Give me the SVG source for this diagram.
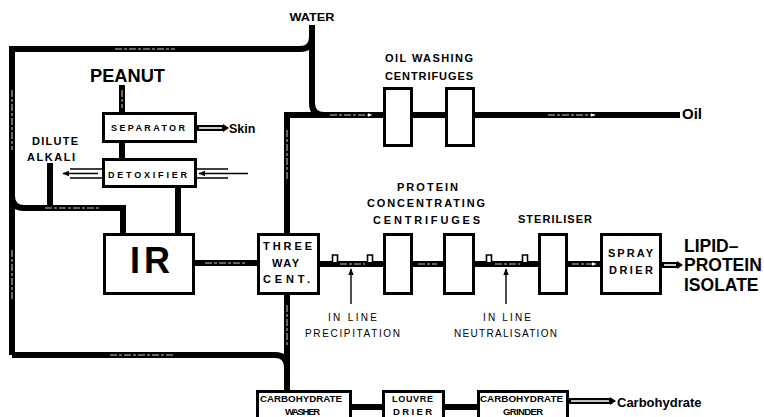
<svg xmlns="http://www.w3.org/2000/svg" width="764" height="417" viewBox="0 0 764 417">
  <defs>
    <style>
      .pipe { fill: none; stroke: #000; stroke-width: 6; }
      .flow { fill: none; stroke: #fff; stroke-width: 0.8; stroke-dasharray: 7 2 3 2; }
      .box { fill: #fff; stroke: #000; stroke-width: 3; }
      .thin { fill: none; stroke: #000; stroke-width: 1.4; }
      .valve { fill: #fff; stroke: #000; stroke-width: 1.6; }
      .t { font-family: "Liberation Sans", Arial, sans-serif; font-weight: bold; fill: #000; }
      .lbl { font-size: 11px; }
      .in { font-size: 9px; }
      .sm { font-size: 10px; font-weight: normal; }
      .big { font-size: 19px; }
      .out { font-size: 17.5px; }
    </style>
    <marker id="ah" viewBox="0 0 10 10" refX="9" refY="5" markerWidth="7" markerHeight="7" orient="auto" markerUnits="userSpaceOnUse">
      <path d="M0,1 L10,5 L0,9 Z" fill="#000"/>
    </marker>
    <marker id="ahw" viewBox="0 0 10 10" refX="9" refY="5" markerWidth="5" markerHeight="5" orient="auto" markerUnits="userSpaceOnUse">
      <path d="M0,1 L10,5 L0,9 Z" fill="#fff"/>
    </marker>
  </defs>

  <!-- pipework -->
  <g id="connectors">
    <!-- outer loop: water feed round the left side -->
    <path class="pipe" d="M12,355 V49 H300 Q312,49 312,37"/>
    <path class="pipe" d="M312,25 V103 Q312,115 324,115 H680"/>
    <path class="pipe" d="M287,233 V115 H330"/>
    <path class="pipe" d="M12,355 H275 Q287,355 287,367"/>
    <path class="pipe" d="M287,295 V392"/>
    <!-- branch to IR and dilute alkali -->
    <path class="pipe" d="M12,196 Q12,208 24,208 H123 V234"/>
    <path class="pipe" d="M50,163 V208"/>
    <!-- peanut feed -->
    <path class="pipe" d="M122,85 V113"/>
    <path class="pipe" d="M122,142 V159"/>
    <path class="pipe" d="M178,187 V234"/>
    <!-- IR to three way centrifuge -->
    <path class="pipe" d="M195,263 H258"/>
    <!-- protein line -->
    <path class="pipe" d="M319,264 H384"/>
    <path class="pipe" d="M412,264 H444"/>
    <path class="pipe" d="M474,264 H539"/>
    <path class="pipe" d="M567,264 H601"/>
    <!-- carbohydrate line -->
    <path class="pipe" d="M351,407 H383"/>
    <path class="pipe" d="M444,407 H478"/>

    <!-- flow marks inside pipes -->
    <path class="flow" d="M115,49 H175"/>
    <path class="flow" d="M12,90 V150"/>
    <path class="flow" d="M12,250 V300"/>
    <path class="flow" d="M110,355 H175"/>
    <path class="flow" d="M45,208 H100"/>
    <path class="flow" d="M122,90 V108"/>
    <path class="flow" d="M330,115 H372" marker-end="url(#ahw)"/>
    <path class="flow" d="M548,115 H595" marker-end="url(#ahw)"/>
    <path class="flow" d="M287,130 V180"/>
    <path class="flow" d="M287,305 V345"/>
    <path class="flow" d="M205,263 H245"/>
    <path class="flow" d="M340,264 H365"/>
    <path class="flow" d="M418,264 H437"/>
    <path class="flow" d="M495,264 H520"/>
    <path class="flow" d="M572,264 H596" marker-end="url(#ahw)"/>

    <!-- skin outlet -->
    <path class="pipe" d="M197,128 H224"/>
    <path d="M199,128 H222" stroke="#fff" stroke-width="1.6"/>
    <path d="M223,124 L229,128 L223,132 Z" fill="#000"/>
    <!-- lipid-protein outlet -->
    <path class="pipe" d="M662,265 H678"/>
    <path d="M664,265 H676" stroke="#fff" stroke-width="1.6"/>
    <path d="M677,261 L683,265 L677,269 Z" fill="#000"/>
    <!-- carbohydrate outlet -->
    <path class="pipe" d="M569,401 H611"/>
    <path d="M571,401 H609" stroke="#fff" stroke-width="1.6"/>
    <path d="M610,397 L616,401 L610,405 Z" fill="#000"/>

    <!-- detoxifier side streams -->
    <path class="thin" d="M70,169 H102 M70,178 H102"/>
    <path class="thin" d="M98,173.5 H63" marker-end="url(#ah)"/>
    <path class="thin" d="M197,169 H228 M197,178 H228"/>
    <path class="thin" d="M248,173.5 H199" marker-end="url(#ah)"/>

    <!-- in-line dosing points -->
    <path class="valve" d="M332.5,262 V255 H337.5 V262"/>
    <path class="valve" d="M367.5,262 V255 H372.5 V262"/>
    <path class="valve" d="M486.5,262 V255 H491.5 V262"/>
    <path class="valve" d="M522.5,262 V255 H527.5 V262"/>
    <path class="thin" d="M351,304 V269" marker-end="url(#ah)"/>
    <path class="thin" d="M506,304 V269" marker-end="url(#ah)"/>
  </g>

  <!-- free labels -->
  <g id="labels">
    <text class="t lbl" x="312" y="21" text-anchor="middle" textLength="45" lengthAdjust="spacingAndGlyphs">WATER</text>
    <text class="t big" x="90" y="82" textLength="75" lengthAdjust="spacingAndGlyphs">PEANUT</text>
    <text class="t lbl" x="385" y="62" textLength="88" lengthAdjust="spacing">OIL WASHING</text>
    <text class="t lbl" x="385" y="80" textLength="88" lengthAdjust="spacing">CENTRIFUGES</text>
    <text class="t lbl" x="32" y="145" textLength="46" lengthAdjust="spacing">DILUTE</text>
    <text class="t lbl" x="27" y="161" textLength="48" lengthAdjust="spacing">ALKALI</text>
    <text class="t" x="229" y="133" font-size="12.5">Skin</text>
    <text class="t" x="682" y="119" font-size="15">Oil</text>
    <text class="t lbl" x="397" y="191" textLength="61" lengthAdjust="spacing">PROTEIN</text>
    <text class="t lbl" x="367" y="207" textLength="118" lengthAdjust="spacing">CONCENTRATING</text>
    <text class="t lbl" x="373" y="224" textLength="107" lengthAdjust="spacing">CENTRIFUGES</text>
    <text class="t lbl" x="518" y="223" textLength="74" lengthAdjust="spacing">STERILISER</text>
    <text class="t sm" x="328" y="321" textLength="49" lengthAdjust="spacing">IN LINE</text>
    <text class="t sm" x="305" y="337" textLength="95" lengthAdjust="spacing">PRECIPITATION</text>
    <text class="t sm" x="483" y="321" textLength="48" lengthAdjust="spacing">IN LINE</text>
    <text class="t sm" x="454" y="337" textLength="103" lengthAdjust="spacing">NEUTRALISATION</text>
    <text class="t out" x="684" y="252">LIPID–</text>
    <text class="t out" x="684" y="271">PROTEIN</text>
    <text class="t out" x="684" y="291">ISOLATE</text>
    <text class="t" x="617" y="407" font-size="13">Carbohydrate</text>
  </g>

  <!-- process units -->
  <g id="separator">
    <rect class="box" x="103.5" y="113.5" width="92" height="28"/>
    <text class="t in" x="111" y="131" textLength="74" lengthAdjust="spacing">SEPARATOR</text>
  </g>
  <g id="detoxifier">
    <rect class="box" x="103.5" y="159.5" width="92" height="27"/>
    <text class="t in" x="108" y="178" textLength="79" lengthAdjust="spacing">DETOXIFIER</text>
  </g>
  <g id="ir">
    <rect class="box" x="104.5" y="234.5" width="89" height="59"/>
    <text class="t" x="130" y="273" font-size="36" textLength="40" lengthAdjust="spacing">IR</text>
  </g>
  <g id="three-way-cent">
    <rect class="box" x="258.5" y="234.5" width="60" height="59"/>
    <text class="t lbl" x="263" y="250" textLength="49" lengthAdjust="spacing">THREE</text>
    <text class="t lbl" x="272" y="267" textLength="27" lengthAdjust="spacing">WAY</text>
    <text class="t lbl" x="263" y="283" textLength="47" lengthAdjust="spacing">CENT.</text>
  </g>
  <g id="oil-centrifuge-1"><rect class="box" x="384.5" y="88.5" width="27" height="57"/></g>
  <g id="oil-centrifuge-2"><rect class="box" x="446.5" y="88.5" width="27" height="57"/></g>
  <g id="protein-centrifuge-1"><rect class="box" x="384.5" y="234.5" width="27" height="59"/></g>
  <g id="protein-centrifuge-2"><rect class="box" x="444.5" y="234.5" width="29" height="59"/></g>
  <g id="steriliser"><rect class="box" x="539.5" y="234.5" width="27" height="59"/></g>
  <g id="spray-drier">
    <rect class="box" x="601.5" y="234.5" width="59" height="59"/>
    <text class="t lbl" x="608" y="257" textLength="45" lengthAdjust="spacing">SPRAY</text>
    <text class="t lbl" x="609" y="274" textLength="44" lengthAdjust="spacing">DRIER</text>
  </g>
  <g id="carbohydrate-washer">
    <rect class="box" x="257.5" y="391.5" width="93" height="30"/>
    <text class="t" x="260" y="402" font-size="9" textLength="82" lengthAdjust="spacingAndGlyphs">CARBOHYDRATE</text>
    <text class="t" x="285" y="415" font-size="9.5" textLength="35" lengthAdjust="spacing">WASHER</text>
  </g>
  <g id="louvre-drier">
    <rect class="box" x="383.5" y="391.5" width="60" height="30"/>
    <text class="t" x="392" y="402" font-size="9" textLength="41" lengthAdjust="spacing">LOUVRE</text>
    <text class="t" x="393" y="415" font-size="9.5" textLength="39" lengthAdjust="spacing">DRIER</text>
  </g>
  <g id="carbohydrate-grinder">
    <rect class="box" x="478.5" y="391.5" width="89" height="30"/>
    <text class="t" x="480" y="402" font-size="9" textLength="83" lengthAdjust="spacingAndGlyphs">CARBOHYDRATE</text>
    <text class="t" x="503" y="415" font-size="9.5" textLength="40" lengthAdjust="spacing">GRINDER</text>
  </g>
</svg>
